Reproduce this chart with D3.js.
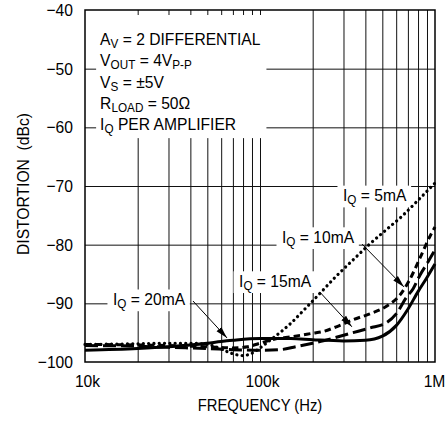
<!DOCTYPE html>
<html>
<head>
<meta charset="utf-8">
<script src="https://cdn.jsdelivr.net/npm/d3@7/dist/d3.min.js"></script>
<style>
  html, body { margin: 0; padding: 0; background: #fff; }
  svg { display: block; }
  text { font-family: "Liberation Sans", Arial, Helvetica, sans-serif; fill: #000; }
</style>
</head>
<body>
<svg id="chart" width="448" height="424"></svg>
<script>
// Frequency (kHz) and distortion (dBc) for each quiescent-current setting
const freq5mA  = [10, 20, 30, 40, 50, 60, 70, 80, 90, 100, 120, 150, 180, 220, 270, 340, 420, 520, 650, 820, 1000];
const dist5mA  = [-97.0, -96.9, -96.8, -96.8, -97.0, -97.8, -98.6, -98.9, -98.5, -97.6, -95.8, -93.4, -91.0, -88.3, -85.5, -82.6, -80.0, -77.6, -75.1, -72.1, -69.5];

const freq10mA = [10, 20, 30, 50, 70, 85, 100, 125, 150, 200, 230, 273, 340, 424, 528, 630, 716, 820, 935, 1000];
const dist10mA = [-97.0, -97.1, -97.2, -97.4, -97.6, -97.4, -96.8, -96.0, -95.7, -95.1, -94.8, -94.0, -92.8, -91.8, -90.5, -88.6, -86.0, -82.3, -78.6, -77.0];

const freq15mA = [10, 20, 30, 50, 70, 100, 130, 160, 200, 230, 280, 340, 424, 528, 600, 686, 750, 820, 910, 1000];
const dist15mA = [-97.2, -97.3, -97.5, -97.7, -97.9, -98.0, -97.9, -97.4, -96.8, -96.4, -95.7, -95.0, -94.2, -93.3, -91.8, -89.0, -87.5, -85.2, -83.0, -80.9];

const freq20mA = [10, 20, 30, 40, 50, 60, 70, 100, 150, 200, 300, 400, 500, 600, 700, 800, 900, 1000];
const dist20mA = [-98.0, -97.7, -97.4, -97.1, -96.8, -96.5, -96.3, -96.0, -96.0, -96.2, -96.4, -96.3, -95.6, -93.8, -91.0, -88.0, -85.6, -83.3];

const yTicks = [-40, -50, -60, -70, -80, -90, -100];
const xTickValues = [10, 100, 1000];
const xTickLabels = ["10k", "100k", "1M"];
const gridFreqs = [20, 30, 40, 50, 60, 70, 80, 90, 100, 200, 300, 400, 500, 600, 700, 800, 900];

// Curve labels: text, anchor (kHz, dBc), arrow from / to (kHz, dBc)
const curveLabels = ["5mA", "10mA", "15mA", "20mA"];
const labelAt = [[298, -72.6], [133.6, -79.7], [75.9, -87.2], [14.45, -90.3]];
const arrowFrom = [null, [383, -79.9], [220, -88.1], [41.4, -89.6]];
const arrowTo   = [null, [665, -87.2], [335, -94.0], [64.8, -95.9]];

const svg = d3.select("#chart");
const plotL = 85, plotT = 10, plotR = 435, plotB = 362;
const FS = 17;       // base font size
const NARROW = 0.92; // horizontal squeeze for a narrow sans look

const x = d3.scaleLog().domain([10, 1000]).range([plotL, plotR]);
const y = d3.scaleLinear().domain([-100, -40]).range([plotB, plotT]);

// Condense a plain text element horizontally
function squeeze(sel, k = NARROW) {
  sel.each(function () {
    const w = this.getComputedTextLength();
    d3.select(this).attr("textLength", w * k).attr("lengthAdjust", "spacingAndGlyphs");
  });
}

// Grid
svg.append("g")
  .attr("transform", `translate(0,${plotB})`)
  .call(d3.axisBottom(x).tickValues(gridFreqs).tickSize(-(plotB - plotT)).tickFormat(""))
  .call(g => g.select(".domain").remove())
  .call(g => g.selectAll("line").attr("stroke", "#111").attr("stroke-width", 1));

svg.append("g")
  .attr("transform", `translate(${plotL},0)`)
  .call(d3.axisLeft(y).tickValues(yTicks.slice(1, -1)).tickSize(-(plotR - plotL)).tickFormat(""))
  .call(g => g.select(".domain").remove())
  .call(g => g.selectAll("line").attr("stroke", "#111").attr("stroke-width", 1));

// Tick labels
svg.append("g")
  .attr("transform", `translate(${plotL},0)`)
  .call(d3.axisLeft(y).tickValues(yTicks).tickSize(0).tickPadding(12)
        .tickFormat(d => "\u2212" + Math.abs(d)))
  .call(g => g.select(".domain").remove())
  .call(g => g.selectAll("text").attr("font-size", FS).attr("font-family", null).call(squeeze));

svg.append("g")
  .attr("transform", `translate(0,${plotB})`)
  .call(d3.axisBottom(x).tickValues(xTickValues).tickSize(0).tickPadding(13)
        .tickFormat((d, i) => xTickLabels[i]))
  .call(g => g.select(".domain").remove())
  .call(g => g.selectAll("text").attr("font-size", FS).attr("font-family", null)
        .attr("dx", (d, i) => i === xTickValues.length - 1 ? -1 : 2).call(squeeze));

// Axis titles
svg.append("text")
  .attr("x", (plotL + plotR) / 2).attr("y", 411)
  .attr("text-anchor", "middle").attr("font-size", FS)
  .text("FREQUENCY (Hz)")
  .call(squeeze, 0.87);

svg.append("text")
  .attr("transform", `translate(29,${(plotT + plotB) / 2 - 2}) rotate(-90)`)
  .attr("text-anchor", "middle").attr("font-size", FS)
  .attr("xml:space", "preserve").style("white-space", "pre")
  .text("DISTORTION  (dBc)")
  .call(squeeze);

// Text with subscripts, drawn in a horizontally condensed group
function richText(parent, parts, tx, ty, size) {
  const g = parent.append("g").attr("transform", `translate(${tx},${ty}) scale(${NARROW},1)`);
  const t = g.append("text").attr("font-size", size);
  let sub = 0;
  parts.forEach(([s, isSub]) => {
    const span = t.append("tspan").text(s);
    if (isSub) span.attr("font-size", size * 0.75);
    const shift = (isSub ? 3 : 0) - sub;
    if (shift) span.attr("dy", shift);
    sub = isSub ? 3 : 0;
  });
  return { g, t };
}

// Conditions block
const cond = svg.append("g");
const condLines = [
  [["A", 0], ["V", 1], [" = 2 DIFFERENTIAL", 0]],
  [["V", 0], ["OUT", 1], [" = 4V", 0], ["P-P", 1]],
  [["V", 0], ["S", 1], [" = \u00B15V", 0]],
  [["R", 0], ["LOAD", 1], [" = 50\u03A9", 0]],
  [["I", 0], ["Q", 1], [" PER AMPLIFIER", 0]]
];
const condX = x(12.2), condY = y(-46);
const condBg = cond.append("rect").attr("fill", "#fff");
condLines.forEach((parts, i) => richText(cond, parts, condX, condY + i * 21.2, FS));
{
  const b = cond.node().getBBox();
  condBg.attr("x", b.x - 4).attr("y", plotT + 5).attr("width", b.width + 10)
        .attr("height", b.y + b.height + 2 - plotT - 5);
}

// Curve labels with white boxes
curveLabels.forEach((lab, i) => {
  const { g, t } = richText(svg, [["I", 0], ["Q", 1], [" = " + lab, 0]],
                            x(labelAt[i][0]), y(labelAt[i][1]), FS);
  const b = t.node().getBBox();
  g.insert("rect", "text").attr("fill", "#fff")
    .attr("x", b.x - 6).attr("y", b.y).attr("width", b.width + 11).attr("height", b.height);
});

// Curves
const line = d3.line().x(d => x(d[0])).y(d => y(d[1])).curve(d3.curveMonotoneX);
const series = [
  { f: freq5mA,  v: dist5mA,  dash: "0.1 5.2", width: 3.2, cap: "round" },
  { f: freq10mA, v: dist10mA, dash: "6.5 4",   width: 3,   cap: "butt" },
  { f: freq15mA, v: dist15mA, dash: "13 5",    width: 3,   cap: "butt" },
  { f: freq20mA, v: dist20mA, dash: null,      width: 3,   cap: "butt" }
];
series.forEach(s => {
  svg.append("path")
    .datum(s.f.map((f, i) => [f, s.v[i]]))
    .attr("fill", "none")
    .attr("stroke", "#000")
    .attr("stroke-width", s.width)
    .attr("stroke-linecap", s.cap)
    .attr("stroke-dasharray", s.dash)
    .attr("d", line);
});

// Plot frame
svg.append("rect")
  .attr("x", plotL).attr("y", plotT).attr("width", plotR - plotL).attr("height", plotB - plotT)
  .attr("fill", "none").attr("stroke", "#000").attr("stroke-width", 1.5);

// Arrows
svg.append("defs").append("marker")
  .attr("id", "head").attr("viewBox", "0 -4 12 8")
  .attr("refX", 12).attr("refY", 0)
  .attr("markerUnits", "userSpaceOnUse")
  .attr("markerWidth", 12).attr("markerHeight", 8)
  .attr("orient", "auto")
  .append("path").attr("d", "M0,-3.2L12,0L0,3.2Z").attr("fill", "#000");

arrowFrom.forEach((a, i) => {
  if (!a) return;
  svg.append("line")
    .attr("x1", x(a[0])).attr("y1", y(a[1]))
    .attr("x2", x(arrowTo[i][0])).attr("y2", y(arrowTo[i][1]))
    .attr("stroke", "#000").attr("stroke-width", 1)
    .attr("marker-end", "url(#head)");
});
</script>
</body>
</html>
